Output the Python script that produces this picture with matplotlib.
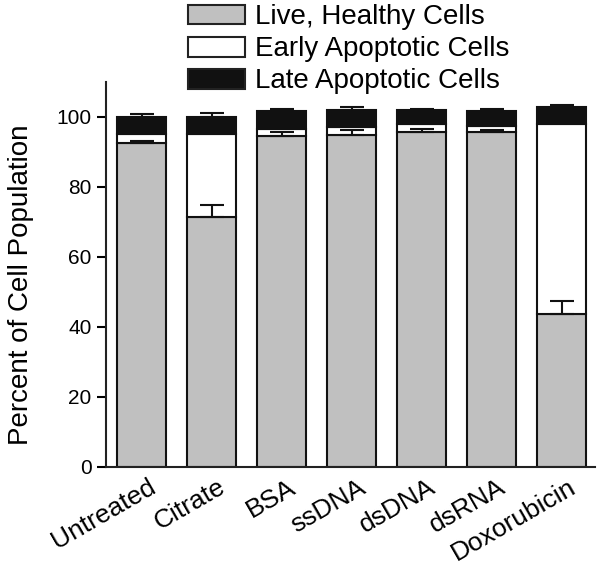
import numpy as np
import matplotlib
matplotlib.use("Agg")
from matplotlib import pyplot as plt
from matplotlib.patches import Patch
from matplotlib.transforms import ScaledTranslation

plt.rcParams['font.family'] = ['Liberation Sans', 'DejaVu Sans']

# values (percent of cell population)
treatments = ["Untreated", "Citrate", "BSA", "ssDNA", "dsDNA", "dsRNA", "Doxorubicin"]
live = [92.6, 71.4, 94.6, 94.9, 95.6, 95.7, 43.5]
live_err = [0.6, 3.5, 0.9, 1.2, 0.8, 0.6, 3.8]
early = [2.6, 23.8, 1.9, 2.2, 2.2, 1.7, 54.3]
late = [4.6, 4.8, 5.1, 4.7, 4.0, 4.2, 5.0]
total_err = [1.0, 1.2, 0.5, 0.9, 0.4, 0.5, 0.6]

series_names = ["Live, Healthy Cells", "Early Apoptotic Cells", "Late Apoptotic Cells"]
colors = ["#c0c0c0", "#ffffff", "#111111"]

x = np.arange(len(treatments))
live = np.array(live)
early = np.array(early)
late = np.array(late)
top = live + early + late

fig = plt.figure(figsize=(6, 5.73), dpi=100)
ax = fig.add_axes([0.177, 0.1855, 0.815, 0.6719])

w = 0.7
lw = 1.5
ax.bar(x, live, w, color=colors[0], edgecolor="#111111", linewidth=lw, zorder=2)
ax.bar(x, early, w, bottom=live, color=colors[1], edgecolor="#111111", linewidth=lw, zorder=2)
ax.bar(x, late, w, bottom=live + early, color=colors[2], edgecolor="#111111", linewidth=lw, zorder=2)

# upper error bars only
ax.errorbar(x, live, yerr=[np.zeros(len(x)), live_err], fmt="none", ecolor="#111111",
            elinewidth=1.5, capsize=8.5, capthick=1.5, zorder=3)
ax.errorbar(x, top, yerr=[np.zeros(len(x)), total_err], fmt="none", ecolor="#111111",
            elinewidth=1.5, capsize=8.5, capthick=1.5, zorder=1)

ax.set_xlim(-0.51, 6.48)
ax.set_ylim(0, 110)
ax.set_yticks([0, 20, 40, 60, 80, 100])
ax.set_xticks(x)
ax.set_xticklabels(treatments, rotation=30, ha="right", va="top", rotation_mode="anchor", fontsize=19)
ax.tick_params(axis="x", length=0, pad=6)
ax.tick_params(axis="y", labelsize=15, length=6.5, width=1.5, pad=4)
# nudge the slanted labels a little to the right, like the original
for lab in ax.get_xticklabels():
    lab.set_transform(lab.get_transform() + ScaledTranslation(0.06, 0, fig.dpi_scale_trans))

for s in ["top", "right"]:
    ax.spines[s].set_visible(False)
for s in ["left", "bottom"]:
    ax.spines[s].set_linewidth(1.5)
    ax.spines[s].set_color("#222222")

ax.set_ylabel("Percent of Cell Population", fontsize=20)
ax.yaxis.set_label_coords(-0.148, 0.472)

handles = [Patch(facecolor=c, edgecolor="#222222", linewidth=1.5) for c in colors]
fig.legend(handles, series_names, loc="upper left", bbox_to_anchor=(0.295, 1.012),
           frameon=False, fontsize=20, handlelength=2.05, handleheight=0.72,
           handletextpad=0.36, labelspacing=0.22, borderaxespad=0)

fig.savefig("out.png", dpi=100)
